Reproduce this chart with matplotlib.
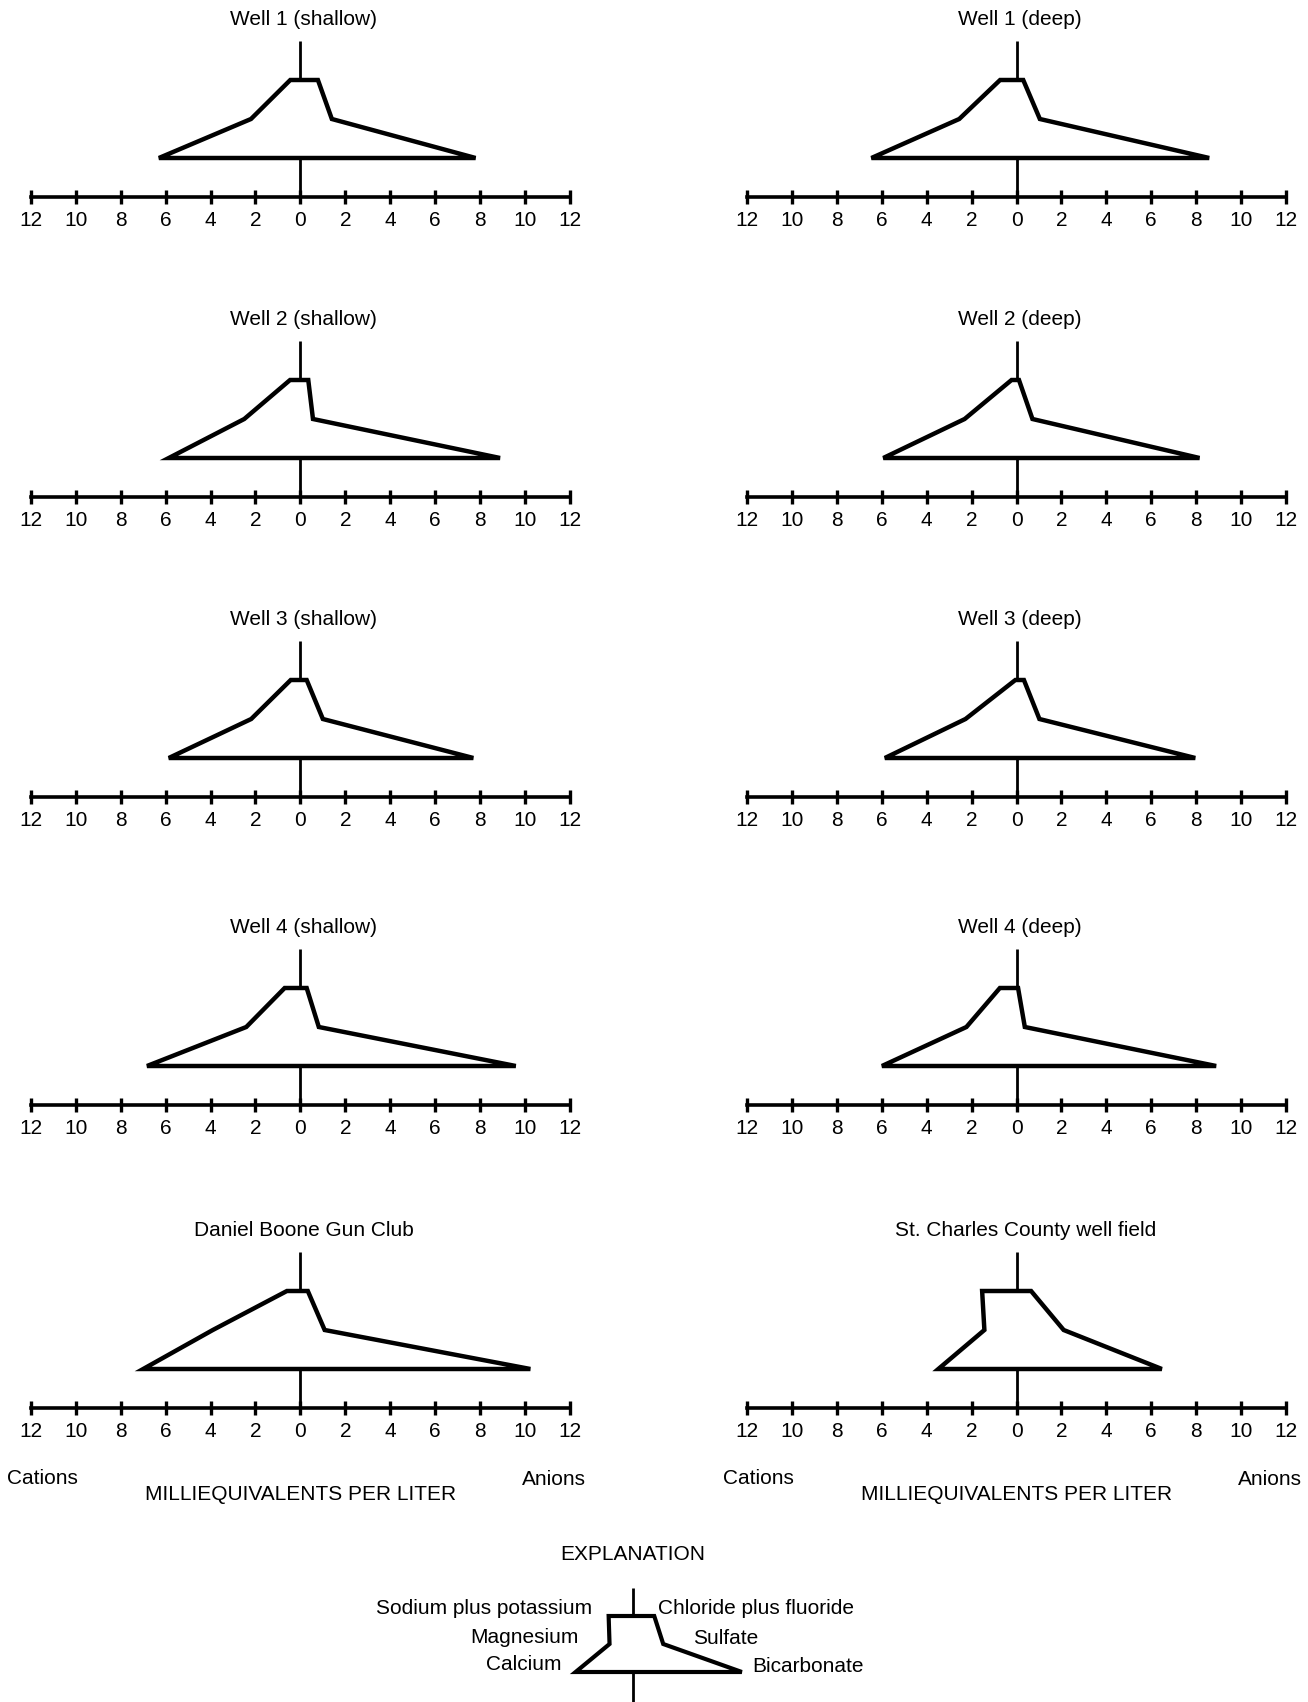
import matplotlib
matplotlib.use("Agg")
import matplotlib.pyplot as plt

plt.rcParams['font.family'] = ['Liberation Sans', 'DejaVu Sans']

# Stiff diagram values, milliequivalents per liter
names = ["Well 1 (shallow)", "Well 1 (deep)",
         "Well 2 (shallow)", "Well 2 (deep)",
         "Well 3 (shallow)", "Well 3 (deep)",
         "Well 4 (shallow)", "Well 4 (deep)",
         "Daniel Boone Gun Club", "St. Charles County well field"]
sodium_potassium = [0.45, 0.73, 0.46, 0.22, 0.43, 0.05, 0.70, 0.74, 0.60, 1.53]
magnesium = [2.20, 2.55, 2.50, 2.31, 2.19, 2.27, 2.41, 2.23, 3.90, 1.43]
calcium = [6.30, 6.46, 5.86, 5.93, 5.86, 5.86, 6.83, 5.99, 7.00, 3.48]
chloride_fluoride = [0.78, 0.30, 0.35, 0.11, 0.28, 0.33, 0.28, 0.07, 0.33, 0.65]
sulfate = [1.40, 1.04, 0.56, 0.71, 1.00, 1.02, 0.82, 0.37, 1.08, 2.10]
bicarbonate = [7.80, 8.58, 8.89, 8.15, 7.70, 7.96, 9.59, 8.89, 10.24, 6.47]

# explanation (schematic) diagram
legend_values = [1.08, 1.04, 2.55, 0.95, 1.35, 4.85]  # NaK, Mg, Ca, Cl, SO4, HCO3
cation_names = ["Sodium plus potassium", "Magnesium", "Calcium"]
anion_names = ["Chloride plus fluoride", "Sulfate", "Bicarbonate"]

ticks = list(range(-12, 13, 2))
tick_labels = [str(abs(t)) for t in ticks]

FIG_W, FIG_H = 1308, 1702
PX_X = 22.46      # pixels per meq/L
PX_Y = 39.0       # pixels per ion level
zero_x = [300.4, 1016.5]
axis_y = [197, 497, 797, 1105, 1408]
FS = 15


def make_axes(fig, x0, y0, px_y, xlim=(-13, 13), ylim=(-2.5, 5)):
    left = (x0 + xlim[0] * PX_X) / FIG_W
    width = (xlim[1] - xlim[0]) * PX_X / FIG_W
    bottom = 1 - (y0 - ylim[0] * px_y) / FIG_H
    height = (ylim[1] - ylim[0]) * px_y / FIG_H
    ax = fig.add_axes([left, bottom, width, height])
    ax.set_xlim(xlim)
    ax.set_ylim(ylim)
    ax.patch.set_visible(False)
    for s in ["top", "right", "left"]:
        ax.spines[s].set_visible(False)
    ax.set_yticks([])
    return ax


def draw_stiff(ax, nak, mg, ca, cl, so4, hco3, lw=3.2):
    xs = [-nak, cl, so4, hco3, -ca, -mg]
    ys = [3, 3, 2, 1, 1, 2]
    ax.vlines(0, 0, 4, color="black", lw=2.0, zorder=2)
    ax.fill(xs, ys, facecolor="white", edgecolor="black", lw=lw,
            joinstyle="miter", zorder=3)


fig = plt.figure(figsize=(FIG_W / 100, FIG_H / 100), dpi=100)

for i, name in enumerate(names):
    row, col = divmod(i, 2)
    ax = make_axes(fig, zero_x[col], axis_y[row], PX_Y)
    ax.spines["bottom"].set_position(("data", 0))
    ax.spines["bottom"].set_bounds(-12, 12)
    ax.spines["bottom"].set_linewidth(2.6)
    ax.set_xticks(ticks)
    ax.set_xticklabels(tick_labels)
    ax.tick_params(axis="x", direction="inout", length=9.5, width=2.4,
                   pad=5.5, labelsize=FS)
    draw_stiff(ax, sodium_potassium[i], magnesium[i], calcium[i],
               chloride_fluoride[i], sulfate[i], bicarbonate[i])
    ax.text(0.4 if i == 9 else 0.15, 4.55, name, ha="center", va="center",
            fontsize=FS)
    if row == 4:
        ax.text(-11.5, -1.82, "Cations", ha="center", va="center", fontsize=FS)
        ax.text(11.3, -1.84, "Anions", ha="center", va="center", fontsize=FS)
        ax.text(0, -2.23, "MILLIEQUIVALENTS PER LITER", ha="center",
                va="center", fontsize=FS)

# explanation
lax = make_axes(fig, 632.9, 1700, 28.0, ylim=(-0.2, 6))
lax.spines["bottom"].set_visible(False)
lax.set_xticks([])
lax.vlines(0, -0.2, 4, color="black", lw=2.0, zorder=2)
nak, mg, ca, cl, so4, hco3 = legend_values
lax.fill([-nak, cl, so4, hco3, -ca, -mg], [3, 3, 2, 1, 1, 2],
         facecolor="white", edgecolor="black", lw=3.0, joinstyle="miter",
         zorder=3)
lax.text(0, 5.18, "EXPLANATION", ha="center", va="center", fontsize=FS)
cat_pos = [(-nak - 0.75, 3.25), (-mg - 1.38, 2.22), (-ca - 0.63, 1.25)]
an_pos = [(cl + 0.16, 3.25), (so4 + 1.35, 2.2), (hco3 + 0.48, 1.2)]
for label, (x, y) in zip(cation_names, cat_pos):
    lax.text(x, y, label, ha="right", va="center", fontsize=FS)
for label, (x, y) in zip(anion_names, an_pos):
    lax.text(x, y, label, ha="left", va="center", fontsize=FS)

fig.savefig("out.png", dpi=100)
